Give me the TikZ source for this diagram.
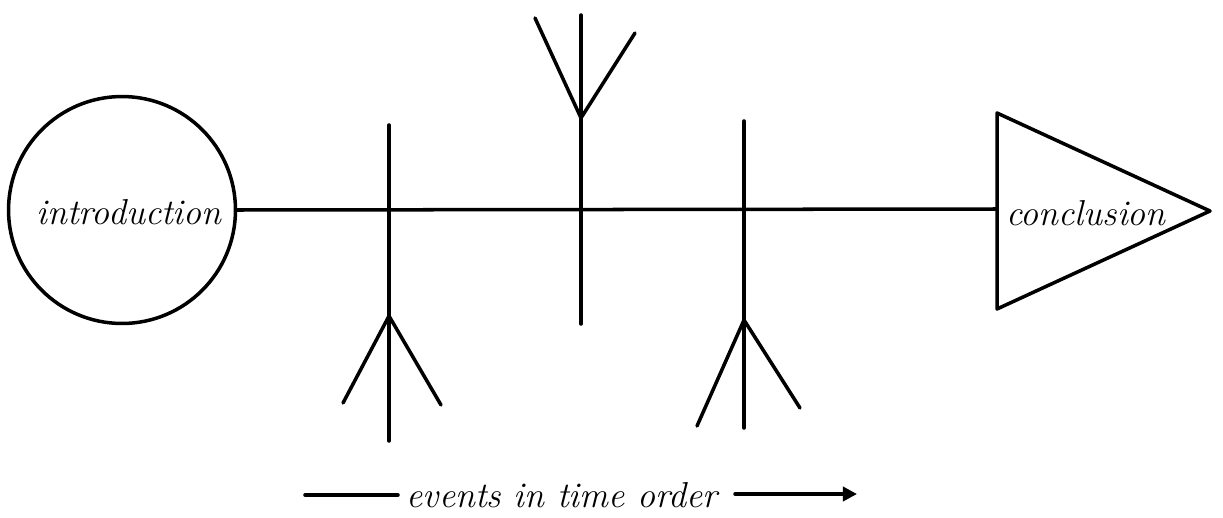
\documentclass[tikz,border=0pt]{standalone}
\usetikzlibrary{arrows.meta}
\begin{document}
\begin{tikzpicture}[x=0.02cm,y=-0.02cm,
  stroke/.style={line width=2pt,line cap=round,line join=round,draw=black},
  lbl/.style={font=\fontsize{20.5}{24}\selectfont\itshape,inner sep=0pt}]
\useasboundingbox (0,0) rectangle (1223,517);
% introduction circle
\node[circle,draw,line width=2pt,minimum size=4.54cm,inner sep=0pt] (intro) at (122,210) {};
\node[lbl] (introtext) at (129,212) {introduction};
% conclusion triangle
\coordinate (t1) at (997,113);
\coordinate (t2) at (1210,211);
\coordinate (t3) at (997,309);
\draw[stroke] (t1) -- (t2) -- (t3) -- cycle;
\node[lbl] (conctext) at (1086,213) {conclusion};
\coordinate (tl) at (997,209);
% main line
\draw[stroke] (intro.east) -- (tl);
% event 1
\coordinate (a0) at (389,125);
\coordinate (aj) at (389,316);
\coordinate (ab) at (389,441);
\coordinate (al) at (343,403);
\coordinate (ar) at (441,405);
\draw[stroke] (a0) -- (ab);
\draw[stroke] (al) -- (aj) -- (ar);
% event 2
\coordinate (b0) at (581,15);
\coordinate (bj) at (581,118);
\coordinate (bb) at (581,324);
\coordinate (bl) at (535,18);
\coordinate (br) at (635,33);
\draw[stroke] (b0) -- (bb);
\draw[stroke] (bl) -- (bj) -- (br);
% event 3
\coordinate (c0) at (744,121);
\coordinate (cj) at (744,320);
\coordinate (cb) at (744,428);
\coordinate (cl) at (697,426);
\coordinate (cr) at (800,408);
\draw[stroke] (c0) -- (cb);
\draw[stroke] (cl) -- (cj) -- (cr);
% time order
\coordinate (s1) at (305,495);
\coordinate (s2) at (398,495);
\draw[stroke] (s1) -- (s2);
\node[lbl] (evt) at (562,495) {events in time order};
\coordinate (e1) at (735,494);
\coordinate (e2) at (857,494);
\draw[stroke,-{Triangle[length=8pt,width=8pt]}] (e1) -- (e2);
\end{tikzpicture}
\end{document}
